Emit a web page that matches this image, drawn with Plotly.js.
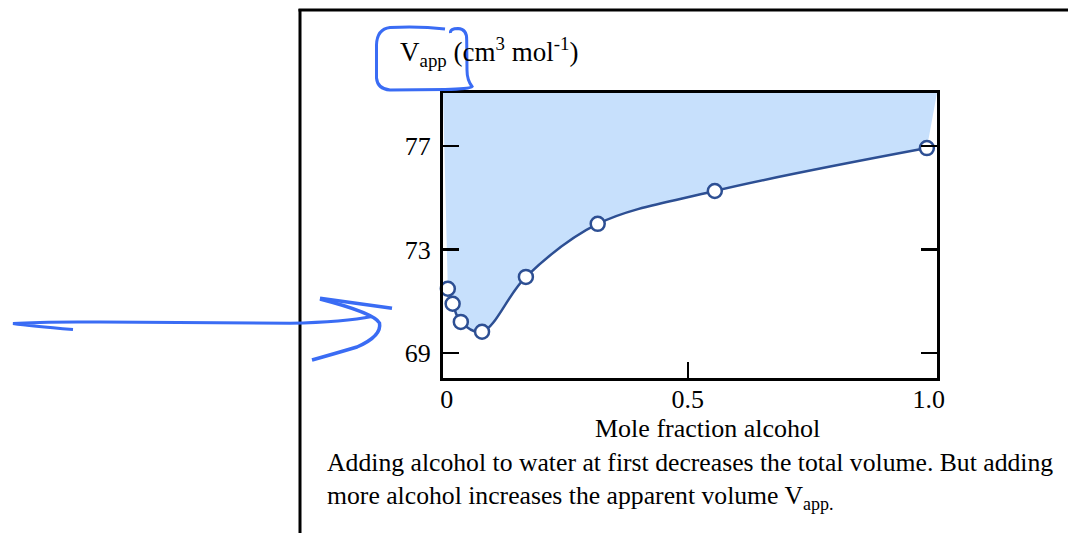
<!DOCTYPE html>
<html>
<head>
<meta charset="utf-8">
<script src="https://cdn.plot.ly/plotly-3.0.1.min.js"></script>
<style>html,body{margin:0;padding:0;background:#fff;}#chart{width:1068px;height:533px;}</style>
</head>
<body>
<div id="chart"></div>
<script>
// Data
const moleFraction = [0.002, 0.012, 0.029, 0.073, 0.164, 0.313, 0.556, 0.996];
const vApp = [71.48, 70.90, 70.20, 69.82, 71.94, 73.99, 75.26, 76.92];
const xTickVals = [0, 0.5, 1.0];
const xTickText = ["0", "0.5", "1.0"];
const xTickMarks = [0.5];
const yTickVals = [69, 73, 77];
const yTickText = ["69", "73", "77"];
const xRange = [-0.008, 1.017];
const yRange = [68.03, 79.05];

// layout geometry (pixels)
const W = 1068, H = 533;
const L = 443, R = 937, T = 93, B = 378;
const PX = px => (px - L) / (R - L);
const PY = py => (B - py) / (B - T);

function pathFrom(cmds) {
  return cmds.map(c => {
    const nums = [];
    for (let i = 1; i < c.length; i += 2) {
      nums.push(PX(c[i]).toFixed(5) + "," + PY(c[i + 1]).toFixed(5));
    }
    return c[0] + " " + nums.join(" ");
  }).join(" ");
}

const penColor = "#3a6cf4";
const serif = "Liberation Serif, Times New Roman, serif";

const boxPath = pathFrom([
  ["M", 445, 29], ["Q", 420, 26, 390, 27.5], ["Q", 377, 29, 376.5, 45],
  ["L", 376.5, 78], ["Q", 377.5, 89, 390, 90], ["L", 445, 89.5],
  ["Q", 470, 89, 472, 86.5], ["Q", 467, 80, 467, 70], ["L", 466.7, 40],
  ["Q", 467, 29, 458, 28.5], ["Q", 450, 28.5, 450.5, 33]
]);
const arrowMain = pathFrom([
  ["M", 73, 329.5], ["Q", 30, 326, 13, 323.5], ["Q", 40, 321.5, 100, 322],
  ["L", 290, 323.3], ["Q", 345, 322, 372, 316.5]
]);
const arrowHead1 = pathFrom([["M", 320, 298.3], ["L", 392, 308.3]]);
const arrowHead2 = pathFrom([
  ["M", 320, 299], ["Q", 374, 313, 379.5, 323], ["Q", 382, 336, 357, 347], ["Q", 330, 355, 312, 360]
]);

const traceTop = {
  x: [xRange[0], xRange[1]],
  y: [yRange[1], yRange[1]],
  mode: "lines",
  line: {width: 0, color: "rgba(0,0,0,0)"},
  hoverinfo: "skip",
  showlegend: false
};
const traceCurve = {
  x: moleFraction,
  y: vApp,
  mode: "lines+markers",
  line: {shape: "spline", smoothing: 1, color: "#2d4f93", width: 2.5},
  marker: {size: 14, color: "#ffffff", line: {color: "#2d4f93", width: 2.5}},
  fill: "tonexty",
  fillcolor: "#c7e0fc",
  showlegend: false,
  cliponaxis: false
};

const tickFont = {family: serif, size: 26, color: "#000"};

const layout = {
  width: W, height: H,
  margin: {l: L, r: W - R, t: T, b: H - B, pad: 0},
  paper_bgcolor: "#fff", plot_bgcolor: "#fff",
  showlegend: false,
  xaxis: {
    range: xRange, tickvals: xTickVals, ticktext: xTickText,
    showline: true, linecolor: "#000", linewidth: 3, mirror: true,
    ticks: "", showgrid: false, zeroline: false, tickfont: tickFont, ticklabelstandoff: -4,
    minor: {tickmode: "array", tickvals: xTickMarks, ticks: "inside", ticklen: 16, tickwidth: 2.5, tickcolor: "#000", showgrid: false}
  },
  yaxis: {
    range: yRange, tickvals: yTickVals, ticktext: yTickText,
    showline: true, linecolor: "#000", linewidth: 3, mirror: "ticks",
    ticks: "inside", ticklen: 16, tickwidth: 2.5, tickcolor: "#000",
    showgrid: false, zeroline: false, tickfont: tickFont, ticklabelstandoff: 4
  },
  annotations: [
    {xref: "paper", yref: "paper", x: PX(398), y: PY(52), xanchor: "left", yanchor: "middle",
     text: "V<sub>app</sub> (cm<sup>3</sup> mol<sup>-1</sup>)", showarrow: false,
     font: {family: serif, size: 27, color: "#000"}},
    {xref: "paper", yref: "paper", x: PX(707), y: PY(428), xanchor: "center", yanchor: "middle",
     text: "Mole fraction alcohol", showarrow: false,
     font: {family: serif, size: 26, color: "#000"}},
    {xref: "paper", yref: "paper", x: PX(325), y: PY(481), xanchor: "left", yanchor: "middle", align: "left",
     text: "Adding alcohol to water at first decreases the total volume. But adding<br>more alcohol increases the apparent volume V<sub>app.</sub>",
     showarrow: false, font: {family: serif, size: 25.7, color: "#000"}}
  ],
  shapes: [
    {type: "line", xref: "paper", yref: "paper", x0: PX(300), x1: PX(300), y0: PY(9), y1: PY(540),
     line: {color: "#000", width: 3}},
    {type: "line", xref: "paper", yref: "paper", x0: PX(298.5), x1: PX(1075), y0: PY(10), y1: PY(10),
     line: {color: "#000", width: 3}},
    {type: "path", xref: "paper", yref: "paper", path: boxPath, line: {color: penColor, width: 3}},
    {type: "path", xref: "paper", yref: "paper", path: arrowMain, line: {color: penColor, width: 3}},
    {type: "path", xref: "paper", yref: "paper", path: arrowHead1, line: {color: penColor, width: 3.5}},
    {type: "path", xref: "paper", yref: "paper", path: arrowHead2, line: {color: penColor, width: 3.5}}
  ]
};

Plotly.newPlot("chart", [traceTop, traceCurve], layout, {staticPlot: true, displayModeBar: false});
</script>
</body>
</html>
